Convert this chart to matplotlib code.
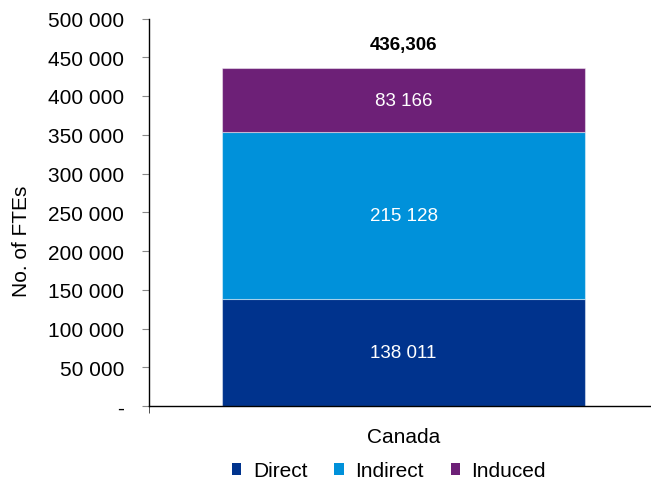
import matplotlib
matplotlib.use("Agg")
import matplotlib.pyplot as plt
from matplotlib.ticker import FuncFormatter, FixedLocator
from matplotlib.patches import Patch

plt.rcParams['font.family'] = ['Liberation Sans', 'DejaVu Sans']

categories = ["Canada"]
series_names = ["Direct", "Indirect", "Induced"]
direct = [138011]
indirect = [215128]
induced = [83166]
total_label = "436,306"
colors = ["#00338D", "#0091DA", "#6D2077"]

fig = plt.figure(figsize=(6.51, 4.85), dpi=100)
ax = fig.add_axes([149/651, (485-407)/485, 1 - 149/651, (407-19.5)/485])

x = list(range(len(categories)))
values = [direct, indirect, induced]
bottom = [0]*len(categories)
for name, vals, c in zip(series_names, values, colors):
    ax.bar(x, vals, 0.713, bottom=bottom, color=c, label=name,
           edgecolor=(1, 1, 1, 0.45), linewidth=0.8)
    for xi, v, b in zip(x, vals, bottom):
        ax.text(xi, b + v/2, f"{v:,}".replace(",", " "), ha="center", va="center",
                color="white", fontsize=13.5)
    bottom = [b + v for b, v in zip(bottom, vals)]

for xi, tot in zip(x, bottom):
    ax.text(xi, tot + 30000, total_label, ha="center", va="center",
            fontsize=13.5, fontweight="bold", color="black")

ax.set_ylim(0, 500000)
ax.set_xlim(-0.5, 0.486)
ax.yaxis.set_major_locator(FixedLocator(range(0, 500001, 50000)))
ax.yaxis.set_major_formatter(FuncFormatter(lambda v, p: "-" if v == 0 else f"{int(v):,}".replace(",", " ")))
ax.set_xticks(x)
ax.set_xticklabels(categories)
ax.set_xticks([-0.5], minor=True)
ax.tick_params(axis="x", which="major", length=0, pad=15, labelsize=15)
ax.tick_params(axis="x", which="minor", length=5, direction="out", color="#333333")
ax.tick_params(axis="y", length=5, direction="out", color="#888888", pad=13, labelsize=15)
for s in ["top", "right"]:
    ax.spines[s].set_visible(False)
ax.spines["left"].set_linewidth(1.0)
ax.spines["bottom"].set_linewidth(1.0)
ax.set_ylabel("No. of FTEs", fontsize=15)
ax.yaxis.set_label_coords((31 - 149) / 502, (407 - 241) / 387.5)

handles = [Patch(facecolor=c, label=n) for n, c in zip(series_names, colors)]
fig.legend(handles=handles, loc="center", bbox_to_anchor=(389/651, 1 - 472/485), ncol=3,
           frameon=False, fontsize=15, handlelength=0.45, handleheight=0.45,
           handletextpad=0.55, columnspacing=1.3)

fig.savefig("out.png", dpi=100)
